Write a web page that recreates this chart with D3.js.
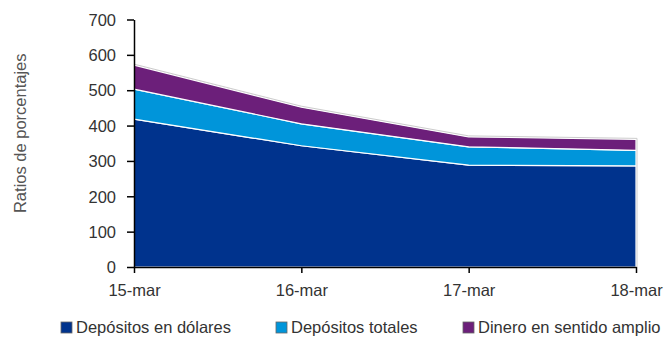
<!DOCTYPE html>
<html>
<head>
<meta charset="utf-8">
<script src="https://cdn.jsdelivr.net/npm/d3@7"></script>
<style>
  html, body { margin: 0; padding: 0; background: #fff; }
  svg text { font-family: 'Liberation Sans', Arial, sans-serif; fill: #333; }
</style>
</head>
<body>
<div id="chart"></div>
<script>
// dates on the x axis
const dates = ['15-mar', '16-mar', '17-mar', '18-mar'];
// stacked layers (each value is the layer's own thickness)
const depositosDolares = [418, 343, 288, 286];
const depositosTotales = [85, 62, 52, 44];
const dineroAmplio = [68, 47, 28, 31];
const seriesNames = ['Depósitos en dólares', 'Depósitos totales', 'Dinero en sentido amplio'];
const seriesColors = ['#00338D', '#0095DA', '#6C1F7A'];
const yTicks = [0, 100, 200, 300, 400, 500, 600, 700];

const W = 666, H = 339;
const margin = { left: 134, right: 30, top: 19.5, bottom: 72 };

const svg = d3.select('#chart').append('svg').attr('width', W).attr('height', H);

const x = d3.scalePoint().domain(dates).range([margin.left, W - margin.right]);
const y = d3.scaleLinear().domain([0, 700]).range([H - margin.bottom, margin.top]);

const rows = dates.map((d, i) => ({
  date: d,
  a: depositosDolares[i],
  b: depositosTotales[i],
  c: dineroAmplio[i],
}));
const layers = d3.stack().keys(['a', 'b', 'c'])(rows);

const area = d3.area()
  .x(d => x(d.data.date))
  .y0(d => y(d[0]))
  .y1(d => y(d[1]));

svg.append('g').selectAll('path')
  .data(layers)
  .join('path')
  .attr('d', area)
  .attr('fill', (d, i) => seriesColors[i])
  .attr('stroke', '#fff')
  .attr('stroke-width', 1.2)
  .attr('stroke-linejoin', 'round');

// faint outline on top and right edge of the stack, as in the source
const topLayer = layers[2];
const lastPt = topLayer[topLayer.length - 1];
const outline = topLayer.map(d => [x(d.data.date), y(d[1]) - 1])
  .concat([[x(lastPt.data.date) + 1, y(lastPt[1]) - 1], [x(lastPt.data.date) + 1, y(0)]]);
svg.append('path')
  .attr('d', d3.line()(outline))
  .attr('fill', 'none')
  .attr('stroke', '#ccc')
  .attr('stroke-width', 1);

// axes
const yAxis = d3.axisLeft(y).tickValues(yTicks).tickSize(7).tickSizeOuter(0).tickPadding(11);
const gy = svg.append('g').attr('transform', `translate(${margin.left},0)`).call(yAxis);
gy.selectAll('text').style('font-size', '16.5px').attr('dy', '0.35em');

const xAxis = d3.axisBottom(x).tickSize(6).tickSizeOuter(0).tickPadding(11);
const gx = svg.append('g').attr('transform', `translate(0,${y(0)})`).call(xAxis);
gx.selectAll('text').style('font-size', '16.5px');

svg.selectAll('.domain, .tick line').attr('stroke', '#000').attr('stroke-width', 1.5);

svg.append('text')
  .attr('transform', `translate(26,${(y(0) + y(700)) / 2 - 10}) rotate(-90)`)
  .attr('text-anchor', 'middle')
  .style('font-size', '16.5px')
  .style('fill', '#555')
  .text('Ratios de porcentajes');

// legend
const legendX = [61, 276, 463];
const lg = svg.append('g').selectAll('g')
  .data(seriesNames)
  .join('g')
  .attr('transform', (d, i) => `translate(${legendX[i]},${H - 6})`);
lg.append('rect')
  .attr('x', 0).attr('y', -11)
  .attr('width', 11).attr('height', 11)
  .attr('fill', (d, i) => seriesColors[i])
  .attr('stroke', '#666').attr('stroke-width', 0.8);
lg.append('text')
  .attr('x', 15).attr('y', 0)
  .style('font-size', '16.5px')
  .text(d => d);
</script>
</body>
</html>
